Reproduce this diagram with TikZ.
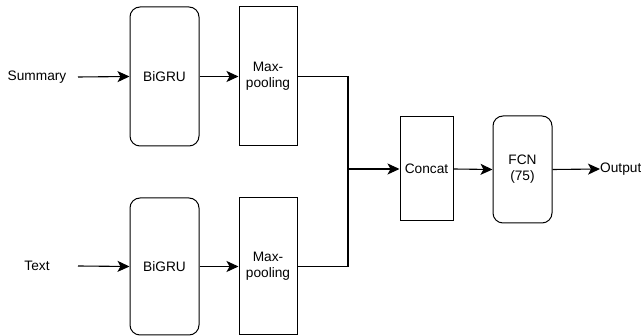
\documentclass[tikz,border=0pt]{standalone}
\usepackage{fontspec}
\setmainfont{Liberation Sans}
\usetikzlibrary{arrows.meta}
\begin{document}
\begin{tikzpicture}[x=1pt,y=-1pt,
  box/.style={draw, line width=1pt, inner sep=0pt, align=center, font=\fontsize{13.7}{16}\selectfont},
  rbox/.style={box, rounded corners=10pt},
  lbl/.style={font=\fontsize{13.7}{16}\selectfont, inner sep=0pt},
  conn/.style={line width=1.1pt, -{Stealth[length=12pt,width=11pt,inset=3pt]}},
  line/.style={line width=1.1pt}]
\useasboundingbox (0,0) rectangle (641,336);
\node[rbox, minimum width=69pt, minimum height=139pt] (g1) at (164.5,76.5) {BiGRU};
\node[box, minimum width=58pt, minimum height=139pt] (p1) at (268,76.5) {Max-\\pooling};
\node[rbox, minimum width=69pt, minimum height=137pt] (g2) at (164.5,266.5) {BiGRU};
\node[box, minimum width=58pt, minimum height=137pt] (p2) at (268,266.5) {Max-\\pooling};
\node[box, minimum width=53pt, minimum height=104pt] (cc) at (426.5,169) {Concat};
\node[rbox, minimum width=59pt, minimum height=107pt] (fc) at (522.5,169.5) {FCN\\(75)};
\node[lbl, anchor=center] (s) at (37,77) {Summary};
\node[lbl, anchor=center] (t) at (37,266) {Text};
\node[lbl, anchor=west] (o) at (600,169) {Output};
\coordinate (j) at (348,169);
\draw[conn] (78,77) -- (g1.west);
\draw[conn] (78,266) -- (g2.west);
\draw[conn] (g1.east) -- (p1.west);
\draw[conn] (g2.east) -- (p2.west);
\draw[line] (p1.east) -| (j);
\draw[line] (p2.east) -| (j);
\draw[conn] (j) -- (cc.west);
\draw[conn] (cc.east) -- (fc.west);
\draw[conn] (fc.east) -- (o.west);
\end{tikzpicture}
\end{document}
